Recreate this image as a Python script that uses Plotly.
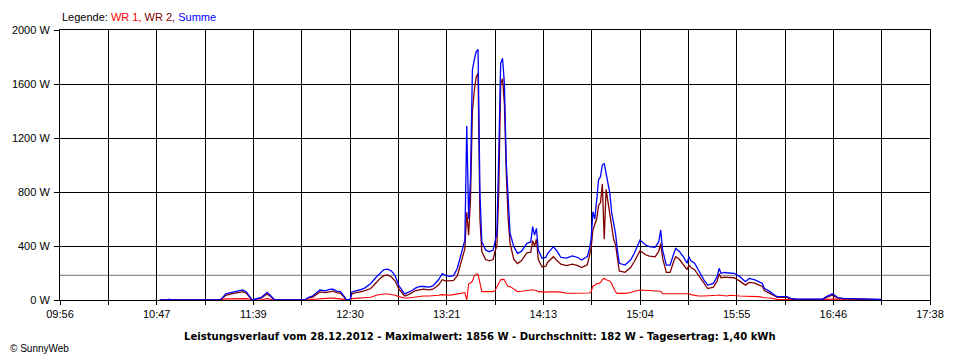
import plotly.graph_objects as go
import numpy as np

# ---- data ----
TIMES = ["10:49","10:53","10:54","10:55","11:21","11:22","11:24","11:27","11:30","11:33","11:35","11:37","11:38",
         "11:43","11:46","11:48","11:50","12:06","12:08","12:10","12:12","12:14","12:17","12:19","12:21","12:23",
         "12:25","12:27","12:28","12:30","12:31","12:33","12:35","12:38","12:41","12:44","12:46","12:48","12:50",
         "12:52","12:54","12:56","12:59","13:01","13:03","13:05","13:07","13:09","13:12","13:14","13:17","13:19",
         "13:21","13:23","13:25","13:27","13:29","13:31","13:32","13:33","13:34","13:35","13:36","13:37","13:38",
         "13:39","13:40","13:42","13:44","13:46","13:47","13:48","13:49","13:50","13:51","13:52","13:53","13:54",
         "13:55","13:57","13:59","14:01","14:04","14:06","14:07","14:08","14:09","14:10","14:12","14:14","14:15",
         "14:18","14:20","14:22","14:25","14:28","14:31","14:33","14:36","14:37","14:38","14:39","14:40","14:41",
         "14:42","14:43","14:44","14:45","14:46","14:47","14:48","14:49","14:50","14:51","14:52","14:53","14:56",
         "14:59","15:01","15:04","15:07","15:09","15:12","15:14","15:15","15:16","15:18","15:20","15:22","15:23",
         "15:25","15:27","15:29","15:30","15:31","15:33","15:35","15:38","15:40","15:43","15:45","15:46","15:47",
         "15:49","15:50","15:52","15:54","15:57","16:00","16:02","16:05","16:07","16:09","16:10","16:13","16:16",
         "16:17","16:22","16:24","16:27","16:41","16:43","16:46","16:47","16:49","16:52","17:01","17:12"]

WR1 = [0,0,0,0,0,3,8,10,12,12,10,5,0,
       2,10,5,0,0,3,5,8,12,12,14,14,12,
       10,5,0,0,10,12,14,16,20,35,40,44,44,
       40,35,25,15,15,20,25,28,30,30,30,35,40,
       35,35,40,45,50,55,0,120,125,140,180,192,190,
       110,62,62,62,62,69,100,120,150,153,150,120,100,
       99,80,62,65,70,75,76,72,70,62,59,58,60,
       62,60,58,50,50,50,49,50,52,60,104,110,120,
       123,130,150,160,150,145,140,120,90,60,49,49,49,
       55,65,74,72,70,68,65,65,46,46,46,48,49,
       48,47,46,46,40,35,30,30,30,30,35,37,35,
       33,30,35,35,30,28,28,25,25,20,17,15,7,
       5,4,2,1,1,5,8,8,4,2,1,1]

WR2 = [0,0,0,0,0,10,35,45,55,62,50,20,0,
       15,45,25,0,0,15,20,40,60,55,62,66,55,
       50,20,0,0,45,55,58,70,85,130,160,180,185,
       170,140,80,30,40,55,70,75,80,75,80,110,150,
       140,140,145,180,290,380,650,480,750,1400,1550,1650,1680,
       600,358,300,290,300,360,400,800,1600,1640,1450,930,600,
       420,300,270,290,350,355,440,400,450,300,245,250,280,
       320,290,265,255,265,255,240,260,310,380,520,560,600,
       700,720,860,450,820,720,650,520,450,410,310,215,205,
       240,285,365,335,325,320,360,420,310,205,205,290,320,
       300,265,225,260,240,225,185,120,85,95,140,195,165,
       170,168,165,165,140,110,130,125,112,100,70,48,25,
       20,20,8,5,5,18,35,30,14,9,5,3]

SUMME = [0,0,6,0,0,12,45,55,68,75,60,25,0,
         20,57,30,0,0,20,28,50,74,68,78,80,66,
         62,25,5,0,60,68,74,90,123,170,198,225,228,
         215,180,105,45,55,70,90,100,100,95,105,150,195,
         180,175,180,235,346,444,1289,600,913,1704,1780,1839,1856,
         790,432,370,358,370,432,494,1086,1753,1790,1600,1012,700,
         494,395,346,360,420,430,543,480,531,370,309,315,346,
         395,360,315,310,326,315,296,321,370,444,654,600,741,
         889,913,1000,1012,938,860,790,642,560,494,370,272,259,
         296,346,444,407,395,390,432,519,370,259,259,346,383,
         358,321,272,321,290,272,222,148,111,123,173,235,198,
         205,202,198,198,173,136,160,150,136,123,86,62,30,
         25,25,12,7,7,25,44,40,17,12,7,5]

AVG_W = 182
TICK_LABELS = ["09:56", "10:47", "11:39", "12:30", "13:21", "14:13", "15:04", "15:55", "16:46", "17:38"]
Y_TICKS = [0, 400, 800, 1200, 1600, 2000]
T_START, T_END = "09:56", "17:38"


def to_min(s):
    h, m = s.split(":")
    return int(h) * 60 + int(m)


x = [to_min(t) for t in TIMES]
x0, x1 = to_min(T_START), to_min(T_END)
grid_x = list(np.linspace(x0, x1, 2 * (len(TICK_LABELS) - 1) + 1))
grid_text = []
for i in range(len(grid_x)):
    grid_text.append(TICK_LABELS[i // 2] if i % 2 == 0 else "")

FONT = "Liberation Sans, Arial, sans-serif"

fig = go.Figure()
fig.add_trace(go.Scatter(x=x, y=WR1, mode="lines", name="WR 1",
                         line=dict(color="#ff0000", width=1.1)))
fig.add_trace(go.Scatter(x=x, y=WR2, mode="lines", name="WR 2",
                         line=dict(color="#800000", width=1.3)))
fig.add_trace(go.Scatter(x=x, y=SUMME, mode="lines", name="Summe",
                         line=dict(color="#0000ff", width=1.3)))

fig.add_shape(type="line", xref="paper", x0=0, x1=1, yref="y", y0=AVG_W, y1=AVG_W,
              line=dict(color="#8c8c8c", width=1.2), layer="between")

# page body has an 8px margin: figure is 952x352 so that the plot area sits at 60..930 x 30..300
fig.update_layout(
    width=952, height=352,
    margin=dict(l=52, r=30, t=22, b=60),
    paper_bgcolor="white", plot_bgcolor="white",
    showlegend=False,
    font=dict(family=FONT, size=11, color="black"),
)
fig.update_xaxes(range=[x0, x1], tickvals=grid_x, ticktext=grid_text, automargin=False,
                 showgrid=True, gridcolor="black", gridwidth=1,
                 showline=True, linecolor="black", linewidth=1, mirror=True,
                 ticks="outside", ticklen=4, tickcolor="black",
                 zeroline=False, tickfont=dict(family=FONT, size=11))
fig.update_yaxes(range=[0, 2000], tickvals=Y_TICKS, ticktext=[f"{v} W" for v in Y_TICKS], automargin=False,
                 showgrid=True, gridcolor="black", gridwidth=1,
                 showline=True, linecolor="black", linewidth=1, mirror=True,
                 ticks="outside", ticklen=5, tickcolor="black", ticklabelstandoff=2,
                 zeroline=False, tickfont=dict(family=FONT, size=11))

fig.add_annotation(xref="paper", yref="paper", x=0, y=1 + 13 / 270, xanchor="left", yanchor="middle",
                   showarrow=False, font=dict(family=FONT, size=11, color="black"),
                   text="Legende: <span style='color:#ff0000'>WR 1,</span> "
                        "<span style='color:#800000'>WR 2,</span> "
                        "<span style='color:#0000ff'>Summe</span>")
fig.add_annotation(xref="paper", yref="paper", x=(480 - 60) / 870, y=(300 - 336) / 270,
                   xanchor="center", yanchor="middle", showarrow=False,
                   font=dict(family="DejaVu Sans Condensed, sans-serif", size=11.2, color="black"),
                   text="<b>Leistungsverlauf vom 28.12.2012 - Maximalwert: 1856 W - Durchschnitt: 182 W - Tagesertrag: 1,40 kWh</b>")
fig.add_annotation(xref="paper", yref="paper", x=(8 - 60) / 870, y=(300 - 348) / 270,
                   xanchor="left", yanchor="middle", showarrow=False,
                   font=dict(family=FONT, size=10, color="black"),
                   text="© SunnyWeb")

fig.write_html("out.html")
